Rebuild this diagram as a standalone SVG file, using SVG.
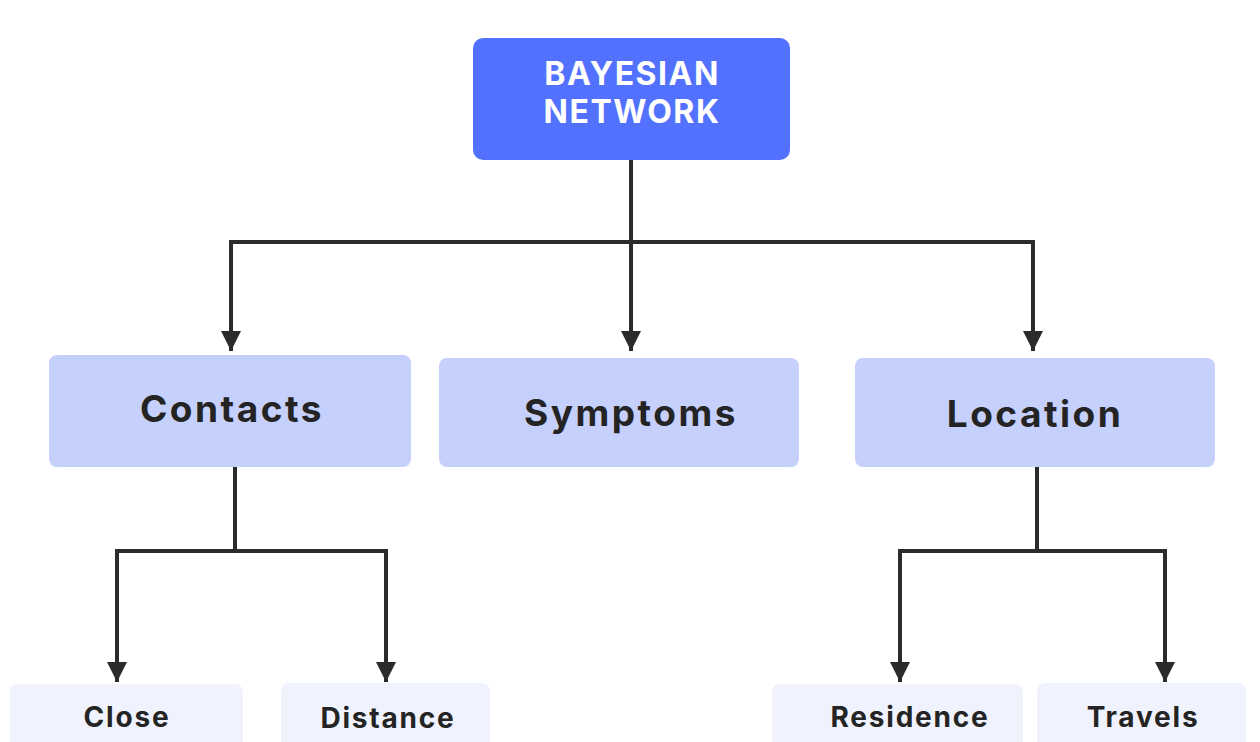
<svg xmlns="http://www.w3.org/2000/svg" width="1260" height="742" viewBox="0 0 1260 742">
  <defs>
    <marker id="arrow" markerWidth="6" markerHeight="5" refX="5" refY="2.5" orient="auto" markerUnits="strokeWidth">
      <path d="M0,0 L5,2.5 L0,5 Z" fill="#2b2b2b"/>
    </marker>
    <style>
      .root { fill: #5371ff; }
      .mid { fill: #c6d0fc; }
      .leaf { fill: #f0f3fe; }
      .lbl { font-family: Inter, "Open Sans", "Liberation Sans", sans-serif; font-weight: 700; text-anchor: middle; fill: #242424; }
      .big { font-size: 37px; letter-spacing: 2.5px; }
      .small { font-size: 28px; letter-spacing: 1.8px; }
      .root-lbl { font-family: Inter, "Open Sans", "Liberation Sans", sans-serif; font-weight: 700; text-anchor: middle; fill: #ffffff; font-size: 32px; letter-spacing: 1.5px; }
      .edge { fill: none; stroke: #2b2b2b; stroke-width: 4; stroke-linejoin: miter; }
    </style>
  </defs>
  <rect width="1260" height="742" fill="#ffffff"/>

  <g id="connectors">
    <path class="edge" d="M631,160 V351" marker-end="url(#arrow)"/>
    <path class="edge" d="M631,242 H231 V351" marker-end="url(#arrow)"/>
    <path class="edge" d="M631,242 H1033 V351" marker-end="url(#arrow)"/>
    <path class="edge" d="M235,467 V551"/>
    <path class="edge" d="M235,551 H117 V682" marker-end="url(#arrow)"/>
    <path class="edge" d="M235,551 H386 V682" marker-end="url(#arrow)"/>
    <path class="edge" d="M1037,467 V551"/>
    <path class="edge" d="M1037,551 H900 V682" marker-end="url(#arrow)"/>
    <path class="edge" d="M1037,551 H1165 V682" marker-end="url(#arrow)"/>
  </g>

  <g id="node-bayesian-network">
    <rect class="root" x="473" y="38" width="317" height="122" rx="10"/>
    <text class="root-lbl" x="632" y="85">BAYESIAN</text>
    <text class="root-lbl" x="632" y="123">NETWORK</text>
  </g>

  <g id="node-contacts">
    <rect class="mid" x="49" y="355" width="362" height="112" rx="8"/>
    <text class="lbl big" x="232" y="422">Contacts</text>
  </g>
  <g id="node-symptoms">
    <rect class="mid" x="439" y="358" width="360" height="109" rx="8"/>
    <text class="lbl big" x="631" y="426">Symptoms</text>
  </g>
  <g id="node-location">
    <rect class="mid" x="855" y="358" width="360" height="109" rx="8"/>
    <text class="lbl big" x="1035" y="427">Location</text>
  </g>

  <g id="node-close">
    <rect class="leaf" x="10" y="684" width="233" height="70" rx="8"/>
    <text class="lbl small" x="127" y="727">Close</text>
  </g>
  <g id="node-distance">
    <rect class="leaf" x="281" y="683" width="209" height="70" rx="8"/>
    <text class="lbl small" x="388" y="728">Distance</text>
  </g>
  <g id="node-residence">
    <rect class="leaf" x="772" y="684" width="251" height="70" rx="8"/>
    <text class="lbl small" x="910" y="727">Residence</text>
  </g>
  <g id="node-travels">
    <rect class="leaf" x="1037" y="683" width="209" height="70" rx="8"/>
    <text class="lbl small" x="1143" y="727">Travels</text>
  </g>
</svg>
